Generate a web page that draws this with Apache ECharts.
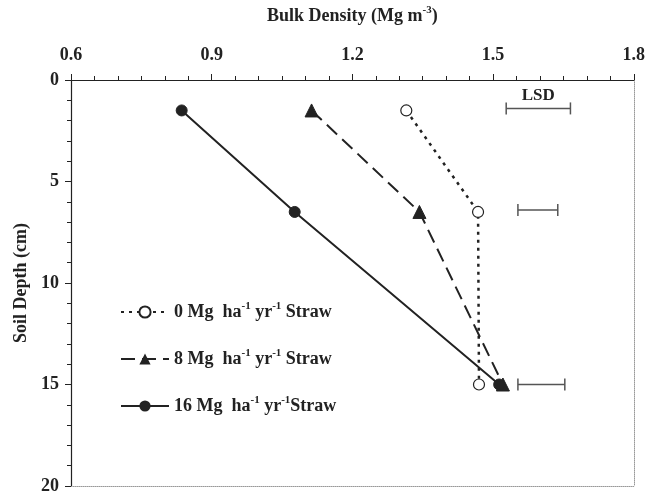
<!DOCTYPE html>
<html>
<head>
<meta charset="utf-8">
<script src="https://cdn.jsdelivr.net/npm/echarts@6/dist/echarts.min.js"></script>
<style>
    html, body { margin: 0; background: #fff; }
    #chart { width: 648px; height: 495px; }
</style>
</head>
<body>
<div id="chart"></div>
<script>
var depths = [1.5, 6.5, 15];
var straw0 = [1.315, 1.468, 1.47];
var straw8 = [1.113, 1.343, 1.521];
var straw16 = [0.836, 1.077, 1.513];
var seriesNames = ['0 Mg', '8 Mg', '16 Mg'];
var lsdLow = [1.528, 1.553, 1.553];
var lsdHigh = [1.665, 1.638, 1.653];
var lsdDepth = [1.4, 6.4, 15];
var xTicks = [0.6, 0.9, 1.2, 1.5, 1.8];
var yTicks = [0, 5, 10, 15, 20];

var FONT = '"Liberation Serif", "DejaVu Serif", serif';

function pairs(vals) {
    return depths.map(function (d, i) {
        return [vals[i], d];
    });
}

var rich = {
    a: { fontFamily: FONT, fontWeight: 'bold', fontSize: 18, color: '#222' },
    s: { fontFamily: FONT, fontWeight: 'bold', fontSize: 11, color: '#222', padding: [0, 0, 11, 0] }
};

var myChart = echarts.init(document.getElementById('chart'));
myChart.setOption({
    animation: false,
    grid: { left: 71, right: 12, top: 75, bottom: 8 },
    legend: {
        orient: 'vertical',
        left: 115,
        top: 296,
        itemWidth: 48,
        itemHeight: 14,
        itemGap: 27,
        data: seriesNames,
        textStyle: { rich: rich },
        formatter: function (name) {
            return '{a|' + name + '  ha}{s|-1}{a| yr}{s|-1}{a|' + (name === '16 Mg' ? '' : ' ') + 'Straw}';
        }
    },
    xAxis: [{
        type: 'value',
        position: 'top',
        min: xTicks[0],
        max: xTicks[xTicks.length - 1],
        interval: 0.3,
        name: '{a|Bulk Density (Mg m}{s|-3}{a|)}',
        nameLocation: 'middle',
        nameGap: 53,
        nameTextStyle: { rich: rich },
        axisLine: { onZero: false, lineStyle: { color: '#222', width: 1.2 } },
        axisTick: { length: 6, lineStyle: { color: '#222' } },
        minorTick: { show: true, splitNumber: 6, length: 4, lineStyle: { color: '#222' } },
        axisLabel: {
            margin: 16,
            fontFamily: FONT, fontWeight: 'bold', fontSize: 18, color: '#222',
            formatter: function (v) { return v.toFixed(1); }
        },
        splitLine: { show: false }
    }, {
        type: 'value',
        position: 'bottom',
        min: xTicks[0],
        max: xTicks[xTicks.length - 1],
        axisLine: { onZero: false, lineStyle: { color: '#999', type: 'dotted', width: 1 } },
        axisTick: { show: false },
        axisLabel: { show: false },
        splitLine: { show: false }
    }],
    yAxis: [{
        type: 'value',
        inverse: true,
        min: yTicks[0],
        max: yTicks[yTicks.length - 1],
        interval: 5,
        name: 'Soil Depth (cm)',
        nameLocation: 'middle',
        nameGap: 40,
        nameTextStyle: { fontFamily: FONT, fontWeight: 'bold', fontSize: 18, color: '#222' },
        axisLine: { onZero: false, lineStyle: { color: '#222', width: 1.2 } },
        axisTick: { length: 6, lineStyle: { color: '#222' } },
        minorTick: { show: true, splitNumber: 5, length: 4, lineStyle: { color: '#222' } },
        axisLabel: { margin: 12, fontFamily: FONT, fontWeight: 'bold', fontSize: 18, color: '#222' },
        splitLine: { show: false }
    }, {
        type: 'value',
        position: 'right',
        inverse: true,
        min: yTicks[0],
        max: yTicks[yTicks.length - 1],
        axisLine: { onZero: false, lineStyle: { color: '#999', type: 'dotted', width: 1 } },
        axisTick: { show: false },
        axisLabel: { show: false },
        splitLine: { show: false }
    }],
    series: [{
        name: seriesNames[0],
        type: 'line',
        data: pairs(straw0),
        symbol: 'circle',
        symbolSize: 11,
        itemStyle: { color: '#fff', borderColor: '#222', borderWidth: 1.2 },
        lineStyle: { color: '#222', width: 2.5, type: [3, 5] },
        z: 3
    }, {
        name: seriesNames[1],
        type: 'line',
        data: pairs(straw8),
        symbol: 'triangle',
        symbolSize: 13,
        itemStyle: { color: '#222', borderColor: '#222' },
        lineStyle: { color: '#222', width: 2, type: [14, 7] },
        z: 4
    }, {
        name: seriesNames[2],
        type: 'line',
        data: pairs(straw16),
        symbol: 'circle',
        symbolSize: 11,
        itemStyle: { color: '#222', borderColor: '#222' },
        lineStyle: { color: '#222', width: 2 },
        z: 5
    }, {
        type: 'custom',
        data: lsdDepth.map(function (d, i) { return [lsdLow[i], lsdHigh[i], d]; }),
        encode: { x: [0, 1], y: 2 },
        silent: true,
        renderItem: function (params, api) {
            var p1 = api.coord([api.value(0), api.value(2)]);
            var p2 = api.coord([api.value(1), api.value(2)]);
            var st = { stroke: '#555', lineWidth: 1.5 };
            var children = [
                { type: 'line', shape: { x1: p1[0], y1: p1[1], x2: p2[0], y2: p2[1] }, style: st },
                { type: 'line', shape: { x1: p1[0], y1: p1[1] - 6, x2: p1[0], y2: p1[1] + 6 }, style: st },
                { type: 'line', shape: { x1: p2[0], y1: p2[1] - 6, x2: p2[0], y2: p2[1] + 6 }, style: st }
            ];
            if (params.dataIndex === 0) {
                children.push({
                    type: 'text',
                    style: {
                        x: (p1[0] + p2[0]) / 2, y: p1[1] - 4,
                        text: 'LSD', align: 'center', verticalAlign: 'bottom',
                        fill: '#222', font: 'bold 17px ' + FONT
                    }
                });
            }
            return { type: 'group', children: children };
        }
    }]
});
</script>
</body>
</html>
